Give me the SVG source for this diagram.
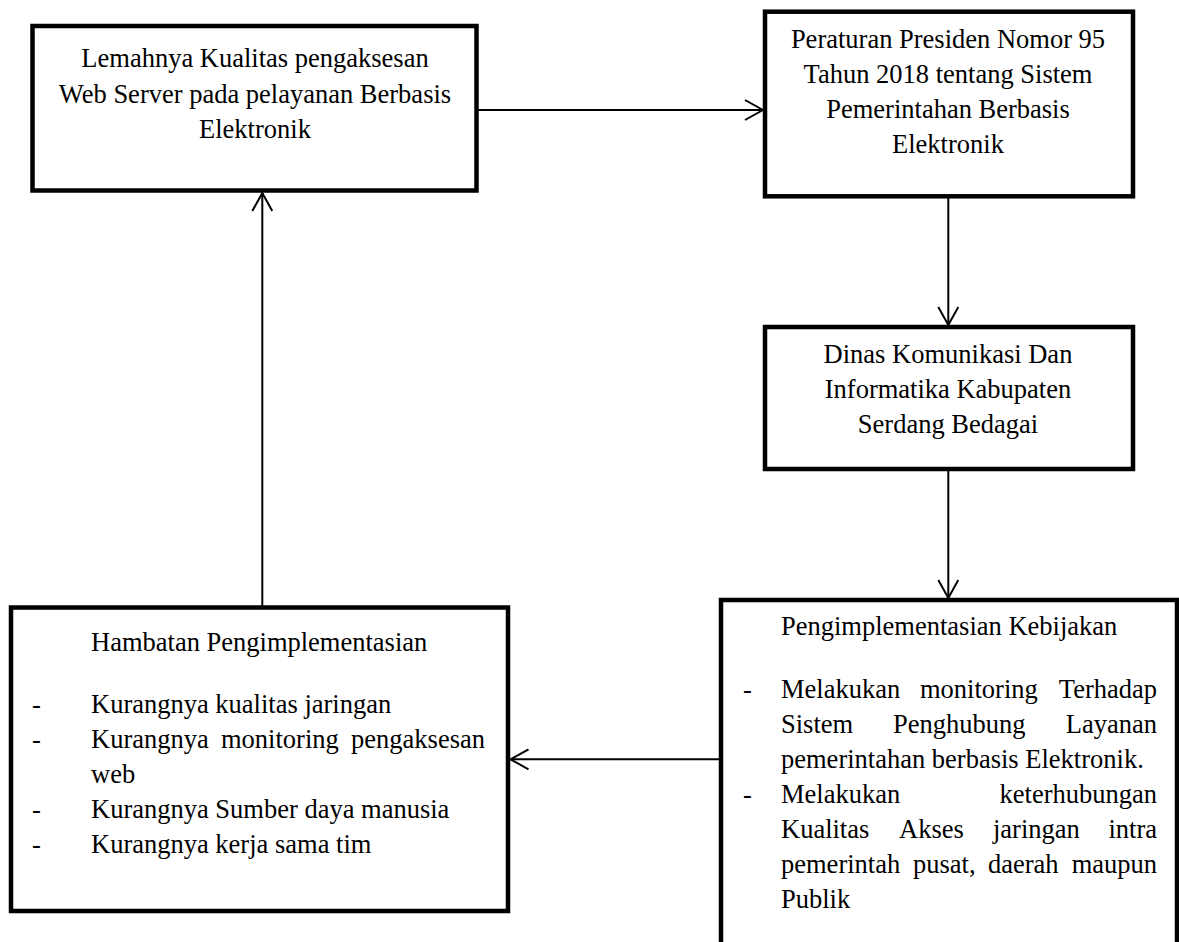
<svg xmlns="http://www.w3.org/2000/svg" width="1179" height="942" viewBox="0 0 1179 942">
<style>
.box{fill:#fff;stroke:#000;stroke-width:4.5}
.t{font-family:"Liberation Serif","Times New Roman",serif;font-size:26.5px;fill:#000}
.c{text-anchor:middle}
.e{text-anchor:end}
.ln{stroke:#000;stroke-width:2;fill:none}
</style>
<defs>
<marker id="ah" viewBox="0 0 20 22" markerWidth="20" markerHeight="22" markerUnits="userSpaceOnUse" refX="19" refY="11" orient="auto">
<path d="M1,1 L19,11 L1,21" fill="none" stroke="#000" stroke-width="2"/>
</marker>
</defs>
<rect width="1179" height="942" fill="#fff"/>
<g id="connectors">
<line class="ln" x1="477" y1="110" x2="763" y2="110" marker-end="url(#ah)"/>
<line class="ln" x1="948.3" y1="196" x2="948.3" y2="325" marker-end="url(#ah)"/>
<line class="ln" x1="948.3" y1="469" x2="948.3" y2="598" marker-end="url(#ah)"/>
<line class="ln" x1="721" y1="759.3" x2="510.5" y2="759.3" marker-end="url(#ah)"/>
<line class="ln" x1="262.3" y1="607" x2="262.3" y2="193" marker-end="url(#ah)"/>
</g>
<g id="node-lemahnya">
<rect class="box" x="32.5" y="26" width="444" height="164.5"/>
<text class="t c" x="255" y="67.3">Lemahnya Kualitas pengaksesan</text>
<text class="t c" x="255" y="102.8">Web Server pada pelayanan Berbasis</text>
<text class="t c" x="255" y="138.3">Elektronik</text>
</g>
<g id="node-perpres">
<rect class="box" x="765" y="11.7" width="368" height="184.6"/>
<text class="t c" x="948" y="48">Peraturan Presiden Nomor 95</text>
<text class="t c" x="948" y="83">Tahun 2018 tentang Sistem</text>
<text class="t c" x="948" y="118">Pemerintahan Berbasis</text>
<text class="t c" x="948" y="153">Elektronik</text>
</g>
<g id="node-dinas">
<rect class="box" x="765" y="327" width="368" height="142"/>
<text class="t c" x="948" y="363">Dinas Komunikasi Dan</text>
<text class="t c" x="948" y="398">Informatika Kabupaten</text>
<text class="t c" x="948" y="433">Serdang Bedagai</text>
</g>
<g id="node-implementasi">
<rect class="box" x="721" y="600" width="456" height="400"/>
<text class="t" x="781" y="635">Pengimplementasian Kebijakan</text>
<text class="t" x="743" y="698">-</text>
<text class="t" x="781" y="698">Melakukan</text>
<text class="t" x="920" y="698">monitoring</text>
<text class="t e" x="1157" y="698">Terhadap</text>
<text class="t" x="781" y="733">Sistem</text>
<text class="t" x="893" y="733">Penghubung</text>
<text class="t e" x="1157" y="733">Layanan</text>
<text class="t" x="781" y="768">pemerintahan berbasis Elektronik.</text>
<text class="t" x="743" y="803">-</text>
<text class="t" x="781" y="803">Melakukan</text>
<text class="t e" x="1157" y="803">keterhubungan</text>
<text class="t" x="781" y="838">Kualitas</text>
<text class="t" x="899" y="838">Akses</text>
<text class="t" x="993" y="838">jaringan</text>
<text class="t e" x="1157" y="838">intra</text>
<text class="t" x="781" y="873">pemerintah</text>
<text class="t" x="913" y="873">pusat,</text>
<text class="t" x="988" y="873">daerah</text>
<text class="t e" x="1157" y="873">maupun</text>
<text class="t" x="781" y="908">Publik</text>
</g>
<g id="node-hambatan">
<rect class="box" x="11" y="607.5" width="497" height="303.5"/>
<text class="t" x="91" y="651">Hambatan Pengimplementasian</text>
<text class="t" x="32" y="713">-</text>
<text class="t" x="91" y="713">Kurangnya kualitas jaringan</text>
<text class="t" x="32" y="747.5">-</text>
<text class="t" x="91" y="747.5">Kurangnya</text>
<text class="t" x="221" y="747.5">monitoring</text>
<text class="t e" x="485" y="747.5">pengaksesan</text>
<text class="t" x="91" y="782.5">web</text>
<text class="t" x="32" y="818">-</text>
<text class="t" x="91" y="818">Kurangnya Sumber daya manusia</text>
<text class="t" x="32" y="853">-</text>
<text class="t" x="91" y="853">Kurangnya kerja sama tim</text>
</g>
</svg>
